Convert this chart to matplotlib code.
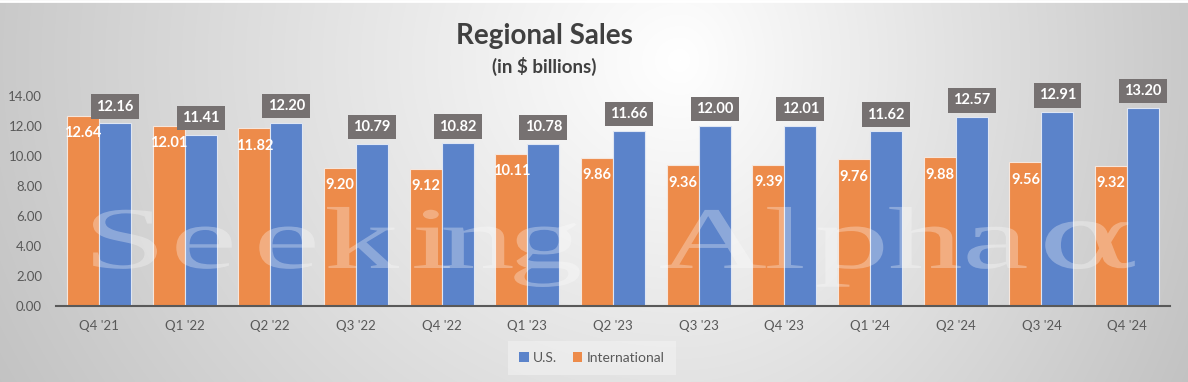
import numpy as np
import matplotlib
matplotlib.use("Agg")
import matplotlib.pyplot as plt
from matplotlib.textpath import TextPath
from matplotlib.patches import PathPatch, Patch
from matplotlib.font_manager import FontProperties
from matplotlib.transforms import Affine2D

# ---- data ----
quarters = ["Q4 '21", "Q1 '22", "Q2 '22", "Q3 '22", "Q4 '22", "Q1 '23", "Q2 '23",
            "Q3 '23", "Q4 '23", "Q1 '24", "Q2 '24", "Q3 '24", "Q4 '24"]
us_sales = [12.16, 11.41, 12.20, 10.79, 10.82, 10.78, 11.66, 12.00, 12.01, 11.62, 12.57, 12.91, 13.20]
intl_sales = [12.64, 12.01, 11.82, 9.20, 9.12, 10.11, 9.86, 9.36, 9.39, 9.76, 9.88, 9.56, 9.32]
yticks = [0, 2, 4, 6, 8, 10, 12, 14]

W, H = 1188, 382
plt.rcParams['font.family'] = ['Lato', 'DejaVu Sans']
fig = plt.figure(figsize=(W / 100, H / 100), dpi=100)

# ---- background gradient ----
bg = fig.add_axes([0, 0, 1, 1], zorder=-10)
xx, yy = np.meshgrid(np.arange(W), np.arange(H))
cx, cy = 680, 60
dx = xx - cx
sx = np.where(dx < 0, 880.0, 650.0)
r = np.sqrt((dx / sx) ** 2 + ((yy - cy) / 790.0) ** 2)
g = np.clip(1 - 0.27 * r, 0.72, 1.0)
img = np.dstack([g, g, g])
bg.imshow(img, extent=[0, W, H, 0], aspect='auto', interpolation='bilinear')
bg.set_xlim(0, W)
bg.set_ylim(H, 0)
bg.axis('off')
bg.plot([0, W], [1, 1], color='white', lw=2)

# ---- main axes ----
ax = fig.add_axes([56 / W, (H - 305.7) / H, (1170 - 56) / W, (305.7 - 65.7) / H])
ax.patch.set_alpha(0)
x = np.arange(len(quarters))
bw = 0.373
orange = '#ED8B4A'
blue = '#5B83CA'
b_int = ax.bar(x - bw / 2, intl_sales, bw, color=orange, edgecolor='#f6e6dc', linewidth=0.8, zorder=2)
b_us = ax.bar(x + bw / 2, us_sales, bw, color=blue, edgecolor='#dfe6f3', linewidth=0.8, zorder=2)

for rect, v in zip(b_int, intl_sales):
    ax.annotate(f"{v:.2f}", (rect.get_x() + rect.get_width() / 2, v), xytext=(0, -12.5),
                textcoords='offset points', ha='center', va='center', color='white',
                fontsize=10.5, fontweight='bold', zorder=5)
for rect, v in zip(b_us, us_sales):
    ax.annotate(f"{v:.2f}", (rect.get_x() + rect.get_width() / 2, v), xytext=(0, 12),
                textcoords='offset points', ha='center', va='center', color='white',
                fontsize=10.5, fontweight='bold', zorder=5,
                bbox=dict(boxstyle='square,pad=0.36', fc='#767171', ec='none'))

ax.set_xlim(-0.5, len(quarters) - 0.5)
ax.set_ylim(0, 16)
ax.set_yticks(yticks)
ax.set_yticklabels([f"{t:.2f}" for t in yticks])
ax.set_xticks(x)
ax.set_xticklabels(quarters)
ax.tick_params(axis='both', length=0, colors='#595959', labelsize=9.5)
ax.tick_params(axis='y', pad=10)
ax.tick_params(axis='x', pad=10)
for s in ['top', 'right', 'left']:
    ax.spines[s].set_visible(False)
ax.spines['bottom'].set_color('#595959')
ax.spines['bottom'].set_linewidth(1.5)
ax.spines['bottom'].set_zorder(3)

# ---- titles ----
fig.text(544 / W, 1 - 36 / H, "Regional Sales", ha='center', va='center',
         fontsize=20, fontweight='bold', color='#404040')
fig.text(544 / W, 1 - 66 / H, "(in $ billions)", ha='center', va='center',
         fontsize=13.5, fontweight='bold', color='#404040')

# ---- legend ----
handles = [Patch(facecolor=blue, edgecolor='none', label='U.S.'),
           Patch(facecolor=orange, edgecolor='none', label='International')]
leg = fig.legend(handles=handles, loc='center', bbox_to_anchor=(592 / W, 1 - 358 / H),
                 ncol=2, frameon=True, fontsize=10, handlelength=0.65, handleheight=0.65,
                 handletextpad=0.3, columnspacing=1.2, borderpad=0.5)
leg.get_frame().set_facecolor('#f2f2f2')
leg.get_frame().set_alpha(0.6)
leg.get_frame().set_edgecolor('none')
leg.get_frame().set_boxstyle('square')
for t in leg.get_texts():
    t.set_color('#595959')

# ---- watermark ----
wm_chars = ['S', 'e', 'e', 'k', 'i', 'n', 'g', 'A', 'l', 'p', 'h', 'a', 'α']
wm_centers = [125, 204, 287, 363, 432, 478, 547, 713, 785, 850, 925, 997, 1090]
fp = FontProperties(family=['Liberation Serif', 'DejaVu Serif'])
base_y = H - 268
for ch, c in zip(wm_chars, wm_centers):
    fpc = fp if ch != 'α' else FontProperties(family='DejaVu Serif')
    tp = TextPath((0, 0), ch, size=88, prop=fpc)
    ext = tp.get_extents()
    sx_ = 1.7
    cxp = (ext.x0 + ext.x1) / 2
    tr = Affine2D().translate(-cxp, 0).scale(sx_, 1).translate(c, base_y).scale(1 / 100) + fig.dpi_scale_trans
    pp = PathPatch(tp, transform=tr, facecolor=(1, 1, 1, 0.3), edgecolor='none', zorder=3)
    fig.add_artist(pp)

fig.savefig('out.png', dpi=100)
